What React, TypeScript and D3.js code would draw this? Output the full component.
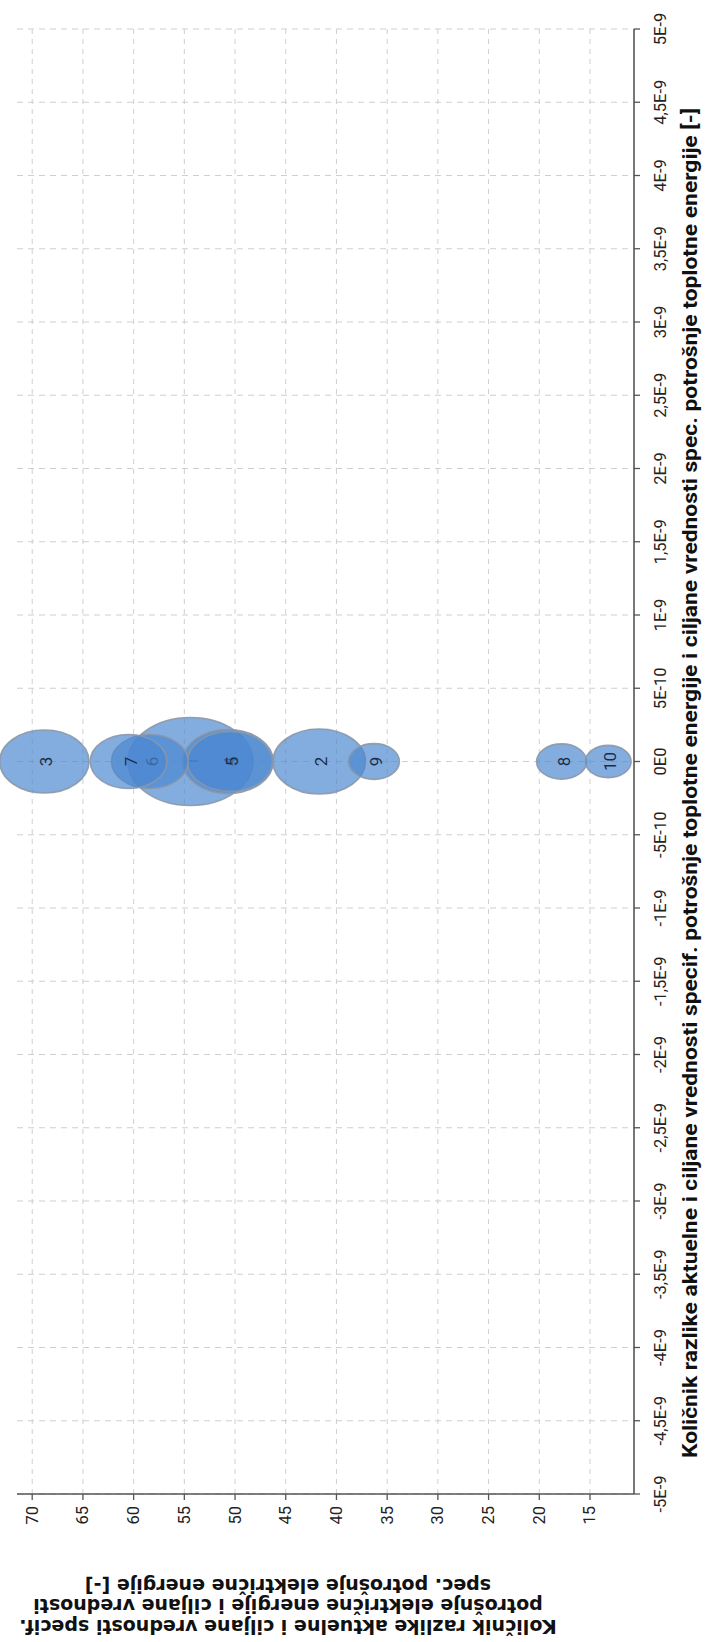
import React from "react";
import * as d3 from "d3";

// Chart x-axis (heat ratio) ticks and labels
const X_TICKS = [-5e-9, -4.5e-9, -4e-9, -3.5e-9, -3e-9, -2.5e-9, -2e-9, -1.5e-9, -1e-9, -5e-10, 0, 5e-10, 1e-9, 1.5e-9, 2e-9, 2.5e-9, 3e-9, 3.5e-9, 4e-9, 4.5e-9, 5e-9];
const X_TICK_LABELS = ["-5E-9", "-4,5E-9", "-4E-9", "-3,5E-9", "-3E-9", "-2,5E-9", "-2E-9", "-1,5E-9", "-1E-9", "-5E-10", "0E0", "5E-10", "1E-9", "1,5E-9", "2E-9", "2,5E-9", "3E-9", "3,5E-9", "4E-9", "4,5E-9", "5E-9"];
// Chart y-axis (electric ratio) ticks
const Y_TICKS = [70, 65, 60, 55, 50, 45, 40, 35, 30, 25, 20, 15];
const Y_TICK_LABELS = ["70", "65", "60", "55", "50", "45", "40", "35", "30", "25", "20", "15"];

// Bubbles
const BUBBLE_IDS = ["1", "2", "3", "4", "5", "6", "7", "8", "9", "10"];
const BUBBLE_X = [0, 0, 0, 0, 0, 0, 0, 0, 0, 0];
const BUBBLE_Y = [54.4, 41.7, 68.8, 50.7, 50.5, 58.4, 60.5, 17.8, 36.3, 13.2];
const BUBBLE_SIZE = [194, 106, 99, 102, 90, 73, 73, 31, 32, 26];

const X_TITLE = "Količnik razlike aktuelne i ciljane vrednosti specif. potrošnje toplotne energije i ciljane vrednosti spec. potrošnje toplotne energije [-]";
const Y_TITLE_LINES = [
  "Količnik razlike aktuelne i ciljane vrednosti specif.",
  "potrošnje električne energije i ciljane vrednosti",
  "spec. potrošnje električne energije [-]",
];

export default function App() {
  const W = 713, H = 1642;
  // chart x values map to vertical page position (chart is rotated)
  const xScale = d3.scaleLinear().domain([-5e-9, 5e-9]).range([1494, 29]);
  // chart y values map to horizontal page position
  const yScale = d3.scaleLinear().domain([10.66, 71.5]).range([634, 17]);
  const rScale = d3.scaleSqrt().domain([0, 194]).range([0, 44]);
  const aspect = 1.42;

  const plotLeft = yScale(71.5);
  const plotRight = yScale(10.66);
  const plotTop = xScale(5e-9);
  const plotBottom = xScale(-5e-9);

  const tickFont = "Roboto, 'Open Sans', sans-serif";

  return (
    <svg width={W} height={H} style={{ position: "absolute", left: 0, top: 0, display: "block", background: "#fff" }}>
      {/* gridlines */}
      <g>
        {X_TICKS.map((t, i) => (
          <line key={"hx" + i} x1={plotLeft} x2={plotRight} y1={xScale(t)} y2={xScale(t)} stroke="#cfcfcf" strokeWidth={1} strokeDasharray="6,5" />
        ))}
        {Y_TICKS.map((t, i) => (
          <line key={"vy" + i} x1={yScale(t)} x2={yScale(t)} y1={plotTop} y2={plotBottom} stroke="#cfcfcf" strokeWidth={1} strokeDasharray="5,5" />
        ))}
      </g>
      {/* axes */}
      <line x1={plotRight} x2={plotRight} y1={plotTop} y2={plotBottom} stroke="#555" strokeWidth={1.6} />
      <line x1={plotLeft} x2={plotRight} y1={plotBottom} y2={plotBottom} stroke="#555" strokeWidth={1.6} />
      {X_TICKS.map((t, i) => (
        <g key={"xt" + i}>
          <line x1={plotRight} x2={plotRight + 6} y1={xScale(t)} y2={xScale(t)} stroke="#555" strokeWidth={1.3} />
          <text transform={`translate(${plotRight + 26},${xScale(t)}) rotate(-90)`} textAnchor="middle" dominantBaseline="central" fontFamily={tickFont} fontSize={16.5} fill="#222">
            {X_TICK_LABELS[i]}
          </text>
        </g>
      ))}
      {Y_TICKS.map((t, i) => (
        <g key={"yt" + i}>
          <line x1={yScale(t)} x2={yScale(t)} y1={plotBottom} y2={plotBottom + 6} stroke="#555" strokeWidth={1.3} />
          <text transform={`translate(${yScale(t)},${plotBottom + 12}) rotate(-90)`} textAnchor="end" dominantBaseline="central" fontFamily={tickFont} fontSize={16.5} fill="#222">
            {Y_TICK_LABELS[i]}
          </text>
        </g>
      ))}
      {/* bubbles */}
      <g>
        {BUBBLE_IDS.map((id, i) => {
          const cx = yScale(BUBBLE_Y[i]);
          const cy = xScale(BUBBLE_X[i]);
          const r = rScale(BUBBLE_SIZE[i]);
          return (
            <g key={"b" + id}>
              <ellipse cx={cx} cy={cy} rx={r * aspect} ry={r} fill="#4a86d0" fillOpacity={0.68} stroke="#8a97a8" strokeWidth={1.6} strokeOpacity={0.9} />
              <text transform={`translate(${cx + 2},${cy}) rotate(-90)`} textAnchor="middle" dominantBaseline="central" fontFamily={tickFont} fontSize={17} fill="#1a2e4c">
                {id}
              </text>
            </g>
          );
        })}
      </g>
      {/* chart x-axis title (rotated) */}
      <text transform={`translate(690,783) rotate(-90)`} textAnchor="middle" dominantBaseline="central" fontFamily={tickFont} fontWeight="bold" fontSize={20} fill="#111" textLength={1350} lengthAdjust="spacingAndGlyphs">
        {X_TITLE}
      </text>
      {/* chart y-axis title (upside down) */}
      <g transform="translate(288,1606) rotate(180)">
        {Y_TITLE_LINES.map((line, i) => (
          <text key={"yl" + i} x={0} y={(i - 1) * 20.5} textAnchor="middle" dominantBaseline="central" fontFamily="'DejaVu Sans', sans-serif" fontWeight="bold" fontSize={19} fill="#111">
            {line}
          </text>
        ))}
      </g>
    </svg>
  );
}
